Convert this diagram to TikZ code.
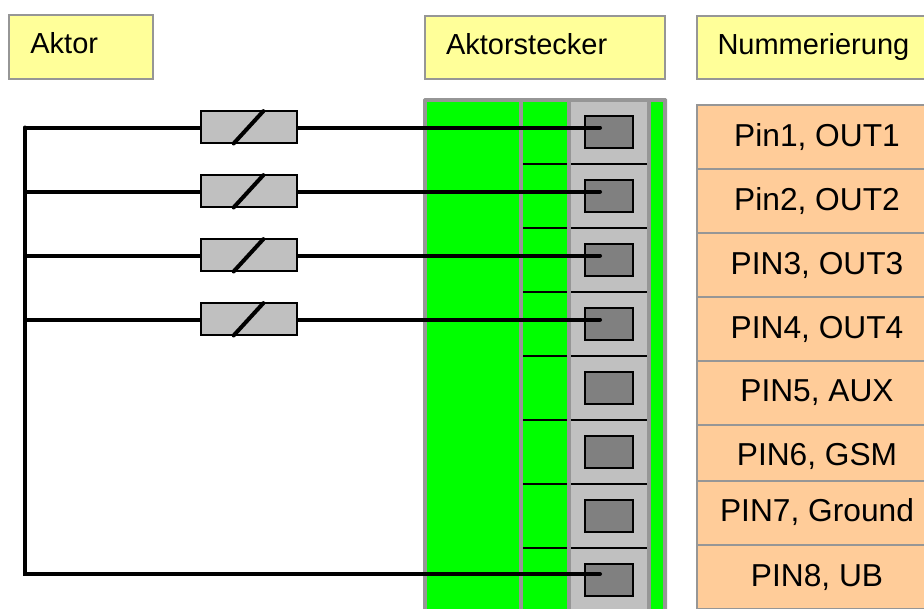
\documentclass[tikz,border=0pt]{standalone}
\usepackage{fontspec}
\setmainfont{Liberation Sans}
\definecolor{legend}{HTML}{FFFF99}
\definecolor{pinrow}{HTML}{FFCC99}
\definecolor{frame}{HTML}{969696}
\definecolor{socket}{HTML}{C0C0C0}
\definecolor{contact}{HTML}{808080}
\tikzset{
  header/.style={draw=frame,line width=2pt,fill=legend,minimum height=63.7pt,text height=19pt,text depth=6pt,align=left,font=\fontsize{29}{32}\selectfont,inner sep=0pt},
  pinrow/.style={draw=frame,line width=2pt,fill=pinrow,minimum width=240pt,inner sep=0pt,font=\fontsize{31.7}{35}\selectfont},
  pinbox/.style={draw=black,line width=1.8pt,fill=contact,minimum width=48pt,minimum height=32pt,inner sep=0pt},
  fuse/.style={draw=black,line width=1.8pt,fill=socket,minimum width=96pt,minimum height=32pt,inner sep=0pt},
  wire/.style={line width=4pt,line cap=round},
  sep/.style={line width=2pt}
}
\begin{document}
\begin{tikzpicture}[x=1pt,y=-1pt]
\path[use as bounding box] (0,0) rectangle (924,608);
% headers
\node[header,minimum width=143.7pt,text width=101pt] (aktor) at (80.85,46.85) {Aktor};
\node[header,minimum width=240pt,text width=198pt] (stecker) at (545,47.5) {Aktorstecker};
\node[header,minimum width=240pt,text width=199pt] (nummer) at (817,47.5) {Nummerierung};
% connector body
\fill[frame,rounded corners=1.5pt] (423,98) rectangle (667,612);
\fill[green] (427,102) rectangle (519,610);
\fill[green] (523,102) rectangle (567,610);
\fill[socket] (571,102) rectangle (647,610);
\fill[green] (651,102) rectangle (663,610);
\foreach \y in {163.7,227.7,291.7,355.7,419.7,483.7,547.7}{
  \draw[sep] (523,\y) -- (567,\y);
  \draw[sep] (571,\y) -- (647,\y);
}
% pins
\node[pinbox] (pin1) at (609,132) {};
\node[pinbox] (pin2) at (609,196) {};
\node[pinbox] (pin3) at (609,260) {};
\node[pinbox] (pin4) at (609,324) {};
\node[pinbox] (pin5) at (609,388) {};
\node[pinbox] (pin6) at (609,452) {};
\node[pinbox] (pin7) at (609,516) {};
\node[pinbox] (pin8) at (609,580) {};
% numbering
\node[pinrow,minimum height=64pt] (row1) at (817,137) {Pin1, OUT1};
\node[pinrow,minimum height=64pt] (row2) at (817,201) {Pin2, OUT2};
\node[pinrow,minimum height=64pt] (row3) at (817,265) {PIN3, OUT3};
\node[pinrow,minimum height=64pt] (row4) at (817,329) {PIN4, OUT4};
\node[pinrow,minimum height=64pt] (row5) at (817,393) {PIN5, AUX};
\node[pinrow,minimum height=56pt,text height=30pt,text depth=4.5pt] (row6) at (817,453) {PIN6, GSM};
\node[pinrow,minimum height=64pt,text height=23pt,text depth=6.4pt] (row7) at (817,513) {PIN7, Ground};
\node[pinrow,minimum height=64pt] (row8) at (817,577) {PIN8, UB};
% wires
\coordinate (bus1) at (25,127.5);
\coordinate (bus2) at (25,191.5);
\coordinate (bus3) at (25,255.5);
\coordinate (bus4) at (25,319.5);
\coordinate (bus8) at (25,574);
\coordinate (end1) at (600,127.5);
\coordinate (end2) at (600,191.5);
\coordinate (end3) at (600,255.5);
\coordinate (end4) at (600,319.5);
\coordinate (end8) at (600,574);
\draw[wire] (bus1) -- (bus8) -- (end8);
\draw[wire] (bus1) -- (end1);
\draw[wire] (bus2) -- (end2);
\draw[wire] (bus3) -- (end3);
\draw[wire] (bus4) -- (end4);
% fuses
\node[fuse] (fuse1) at (249,127.3) {};
\node[fuse] (fuse2) at (249,191.3) {};
\node[fuse] (fuse3) at (249,255.3) {};
\node[fuse] (fuse4) at (249,319.3) {};
\foreach \f in {fuse1,fuse2,fuse3,fuse4}
  \draw[wire,shorten <=1pt,shorten >=1pt] ([xshift=-16pt]\f.south) -- ([xshift=15pt]\f.north);
\end{tikzpicture}
\end{document}
